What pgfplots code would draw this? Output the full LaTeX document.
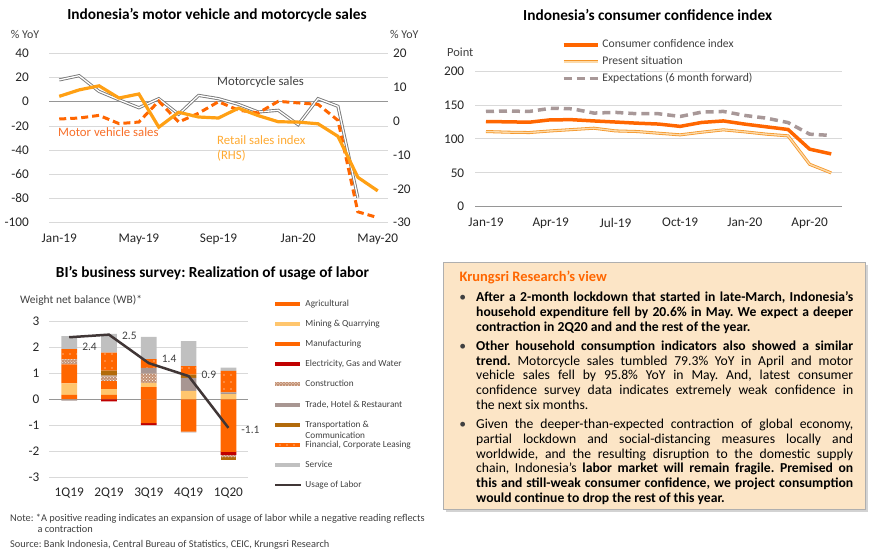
\documentclass[border=0pt]{standalone}
\usepackage{fontspec}
\setmainfont{Carlito}
\usepackage{pgfplots}
\usepackage{pgfplotstable}
\pgfplotsset{compat=1.18}
\usetikzlibrary{patterns,shadows}
\frenchspacing

\definecolor{gridc}{RGB}{217,217,217}
\definecolor{zeroc}{RGB}{150,150,150}
\definecolor{tickc}{RGB}{38,38,38}
\definecolor{labc}{RGB}{64,64,64}
\definecolor{orA}{RGB}{255,102,0}
\definecolor{amber}{RGB}{255,160,20}
\definecolor{mcgray}{RGB}{120,120,120}
\definecolor{presO}{RGB}{245,150,40}
\definecolor{presI}{RGB}{252,218,170}
\definecolor{expc}{RGB}{168,152,152}
\definecolor{mining}{RGB}{255,198,110}
\definecolor{elec}{RGB}{192,0,0}
\definecolor{constr}{RGB}{196,146,116}
\definecolor{trade}{RGB}{168,150,146}
\definecolor{transp}{RGB}{178,106,10}
\definecolor{service}{RGB}{192,192,192}
\definecolor{usage}{RGB}{64,54,54}
\definecolor{boxfill}{RGB}{252,229,198}
\definecolor{boxline}{RGB}{175,175,175}
\definecolor{mvtext}{RGB}{247,110,40}
\definecolor{rstext}{RGB}{255,170,50}

\pgfdeclarepatternformonly{sparsedots}{\pgfqpoint{-1bp}{-1bp}}{\pgfqpoint{1bp}{1bp}}{\pgfqpoint{7bp}{7bp}}{\pgfpathcircle{\pgfqpoint{0bp}{0bp}}{0.7bp}\pgfusepath{fill}}

\pgfplotsset{
  panel/.style={
    scale only axis, anchor=south west,
    axis line style={draw=none},
    major tick length=0pt,
    ymajorgrids, grid style={draw=gridc, line width=0.75bp},
    tick label style={font=\fontsize{13.3}{15}\selectfont, text=tickc},
    /pgf/number format/assume math mode=true,
    extra y ticks={0}, extra y tick labels={},
    extra y tick style={grid style={draw=zeroc, line width=0.9bp}},
    clip=false,
  },
  s1/.style={fill=orA, draw=none},
  s2/.style={fill=mining, draw=none},
  s3/.style={fill=orA, draw=none},
  s4/.style={fill=elec, draw=none},
  s5/.style={fill=constr, draw=none, postaction={pattern=crosshatch dots, pattern color=white}},
  s6/.style={fill=trade, draw=none},
  s7/.style={fill=transp, draw=none},
  s8/.style={fill=orA, draw=none, postaction={pattern=sparsedots, pattern color=white}},
  s9/.style={fill=service, draw=none},
}

% BI survey, positive and negative contributions
\pgfplotstableread{
q agri mining manuf elec constr trade transp fin service
0 0.17 0.45 0.73 0 0.19 0    0    0.40 0.50
1 0.17 0.23 0.30 0 0.19 0.03 0.19 0.70 0.72
2 0.47 0.17 0    0 0.35 0.23 0    0.33 0.86
3 0    0.33 0    0 0    0.50 0.13 0.32 0.97
4 0    0.20 0    0 0    0.07 0    0.83 0.13
}\pos
\pgfplotstableread{
q manuf elec constr trade transp
0 0     0     0     -0.05 0
1 0     -0.08 0     0     0
2 -0.92 -0.08 0     0     0
3 -1.25 0     0     -0.03 0
4 -2.03 -0.12 -0.08 0     -0.12
}\neg
\pgfplotstableread{
q y dy
0 2.4 -10
1 2.5 -1.5
2 1.4 4
3 0.9 1
4 -1.1 -2
}\usagetab

\begin{document}
\begin{tikzpicture}
\useasboundingbox (0,0) rectangle (870bp,-557bp);

% ---------------- motor vehicle and motorcycle sales
\node[font=\bfseries\fontsize{15.4}{17}\selectfont, text=black] at (217bp,-15bp) {Indonesia's motor vehicle and motorcycle sales};
\node[anchor=west, inner sep=0, font=\fontsize{12}{14}\selectfont, text=labc] at (10.7bp,-34bp) {\% YoY};
\node[anchor=west, inner sep=0, font=\fontsize{12}{14}\selectfont, text=labc] at (390bp,-34bp) {\% YoY};
\begin{axis}[panel, at={(49.3bp,-222.7bp)}, width=338.4bp, height=169.4bp,
  xmin=-0.5, xmax=16.5, ymin=-100, ymax=40, ytick={-100,-80,...,40},
  xtick={0,4,8,12,16}, xticklabels={Jan-19,May-19,Sep-19,Jan-20,May-20},
  yticklabel style={xshift=-17bp}, xticklabel style={yshift=-8bp}]
\addplot[mcgray, line width=0.9bp, double=white, double distance=1.3bp] coordinates {
(0,18) (1,21.5) (2,8.5) (3,1.6) (4,-5) (5,2.5) (6,-10.4) (7,5.2) (8,2.5) (9,-2.2)
(10,-8.5) (11,-7.1) (12,-19) (13,2.5) (14,-3.8) (15,-79.3)};
\addplot[orA, line width=3bp, dash pattern=on 7bp off 4bp] coordinates {
(0,-14.3) (1,-13.5) (2,-11.3) (3,-18.1) (4,-16.8) (5,0.5) (6,-16.8) (7,-9.5) (8,0) (9,-7)
(10,-9.3) (11,0.3) (12,-1) (13,-2.2) (14,-15.4) (15,-91) (16,-95.8)};
\end{axis}
\begin{axis}[panel, at={(49.3bp,-222.7bp)}, width=338.4bp, height=169.4bp,
  xmin=-0.5, xmax=16.5, ymin=-30, ymax=20, ytick={-30,-20,...,20},
  ymajorgrids=false, extra y ticks={}, xtick=\empty,
  yticklabel pos=right, yticklabel style={xshift=2bp}]
\addplot[amber, line width=3.2bp] coordinates {
(0,7.3) (1,9.2) (2,10.4) (3,6.8) (4,8.0) (5,-1.8) (6,2.6) (7,1.2) (8,0.9) (9,3.8)
(10,1.6) (11,-0.2) (12,-0.3) (13,-0.8) (14,-4.5) (15,-16.6) (16,-20.6)};
\end{axis}
\node[anchor=west, inner sep=0, font=\fontsize{12.8}{14}\selectfont, text=labc] at (217bp,-81.7bp) {Motorcycle sales};
\node[anchor=west, inner sep=0, font=\fontsize{12.8}{14}\selectfont, text=mvtext] at (58bp,-132bp) {Motor vehicle sales};
\node[anchor=west, inner sep=0, font=\fontsize{12.8}{14}\selectfont, text=rstext] at (217bp,-140bp) {Retail sales index};
\node[anchor=west, inner sep=0, font=\fontsize{12.8}{14}\selectfont, text=rstext] at (217bp,-156bp) {(RHS)};

% ---------------- consumer confidence index
\node[font=\bfseries\fontsize{15.4}{17}\selectfont, text=black] at (647.7bp,-15bp) {Indonesia's consumer confidence index};
\node[anchor=west, inner sep=0, font=\fontsize{12.5}{14}\selectfont, text=labc] at (447bp,-52.3bp) {Point};
\begin{axis}[panel, at={(475.2bp,-206.7bp)}, width=366.8bp, height=135.7bp,
  xmin=-0.5, xmax=16.5, ymin=0, ymax=200, ytick={0,50,...,200},
  xtick={0,3,...,15}, xticklabels={Jan-19,Apr-19,Jul-19,Oct-19,Jan-20,Apr-20},
  yticklabel style={xshift=-7.5bp}, xticklabel style={yshift=-8bp},
  legend cell align=left,
  legend image code/.code={\draw[#1] (0bp,0bp) -- (34bp,0bp);},
  legend style={at={(axis description cs:0.2366,1.2303)}, anchor=north west,
    draw=none, fill=none, inner sep=0pt, outer sep=0pt, row sep=6.35bp,
    nodes={inner sep=0pt, text height=8bp, text depth=2.5bp, text=labc,
      font=\fontsize{11.7}{13}\selectfont},
    /tikz/every odd column/.append style={column sep=3bp}}]
\addplot[orA, line width=3.5bp] coordinates {
(0,125.5) (1,125.1) (2,124.5) (3,128.1) (4,128.2) (5,126.4) (6,124.8) (7,123.1) (8,121.8)
(9,118.4) (10,124.2) (11,126.4) (12,121.7) (13,117.7) (14,113.8) (15,84.8) (16,77.8)};
\addlegendentry{Consumer confidence index}
\addplot[presO, line width=0.8bp, double=presI, double distance=1.4bp] coordinates {
(0,110.8) (1,109.8) (2,109.3) (3,111.7) (4,113.7) (5,115.7) (6,111.7) (7,110.8) (8,108.3)
(9,105.9) (10,109.8) (11,113.3) (12,110.3) (13,106.9) (14,104.4) (15,62.5) (16,49.8)};
\addlegendentry{Present situation}
\addplot[expc, line width=3.5bp, dash pattern=on 8bp off 5bp] coordinates {
(0,140.4) (1,141) (2,140.4) (3,145) (4,144.3) (5,138) (6,139) (7,137) (8,137)
(9,133) (10,139.4) (11,140.4) (12,134.5) (13,130.5) (14,124) (15,106.9) (16,105)};
\addlegendentry{Expectations (6 month forward)}
\end{axis}

% ---------------- BI business survey
\node[font=\bfseries\fontsize{15.4}{17}\selectfont, text=black] at (212.5bp,-273.3bp) {BI's business survey: Realization of usage of labor};
\node[anchor=west, inner sep=0, font=\fontsize{11.5}{13}\selectfont, text=labc] at (20bp,-300.7bp) {Weight net balance (WB)*};
\begin{axis}[panel, at={(49.3bp,-477bp)}, width=199bp, height=155.3bp,
  ybar stacked, bar width=15.7bp,
  xmin=-0.5, xmax=4.5, ymin=-3, ymax=3, ytick={-3,...,3},
  xtick={0,...,4}, xticklabels={1Q19,2Q19,3Q19,4Q19,1Q20},
  yticklabel style={xshift=-6.5bp}, xticklabel style={yshift=-7.5bp},
  legend cell align=left,
  legend image code/.code={\fill[#1, draw=none] (0bp,-2bp) rectangle (25bp,2bp);},
  legend style={at={(axis description cs:1.129,1.1429)}, anchor=north west,
    draw=none, fill=none, inner sep=0pt, outer sep=0pt, row sep=11.1bp,
    nodes={inner sep=0pt, text height=7bp, text depth=2bp, text=labc,
      font=\fontsize{9.3}{11}\selectfont},
    /tikz/every odd column/.append style={column sep=3bp}}]
\addplot[s1] table[x=q, y=agri] {\pos};
\addlegendentry{Agricultural}
\addplot[s2] table[x=q, y=mining] {\pos};
\addlegendentry{Mining \& Quarrying}
\addplot[s3] table[x=q, y=manuf] {\pos};
\addlegendentry{Manufacturing}
\addplot[s4] table[x=q, y=elec] {\pos};
\addlegendentry{Electricity, Gas and Water}
\addplot[s5] table[x=q, y=constr] {\pos};
\addlegendentry{Construction}
\addplot[s6] table[x=q, y=trade] {\pos};
\addlegendentry{Trade, Hotel \& Restaurant}
\addplot[s7] table[x=q, y=transp] {\pos};
\addlegendentry{\smash{\parbox[t]{100bp}{\fontsize{9.3}{11.4}\selectfont Transportation \&\\Communication}}}
\addplot[s8] table[x=q, y=fin] {\pos};
\addlegendentry{Financial, Corporate Leasing}
\addplot[s9] table[x=q, y=service] {\pos};
\addlegendentry{Service}
\addlegendimage{legend image code/.code={\draw[usage, line width=2.5bp] (0bp,0bp) -- (26bp,0bp);}}
\addlegendentry{Usage of Labor}
\end{axis}
\begin{axis}[panel, hide axis, at={(49.3bp,-477bp)}, width=199bp, height=155.3bp,
  ybar stacked, bar width=15.7bp, xmin=-0.5, xmax=4.5, ymin=-3, ymax=3]
\addplot[s3] table[x=q, y=manuf] {\neg};
\addplot[s4] table[x=q, y=elec] {\neg};
\addplot[s5] table[x=q, y=constr] {\neg};
\addplot[s6] table[x=q, y=trade] {\neg};
\addplot[s7] table[x=q, y=transp] {\neg};
\end{axis}
\begin{axis}[panel, hide axis, at={(49.3bp,-477bp)}, width=199bp, height=155.3bp,
  xmin=-0.5, xmax=4.5, ymin=-3, ymax=3]
\addplot[usage, line width=2.5bp, nodes near coords={\pgfmathprintnumber[fixed, fixed zerofill, precision=1]{\pgfplotspointmeta}},
  visualization depends on={\thisrow{dy}\as\dy},
  every node near coord/.append style={anchor=west, xshift=8.5bp, yshift=\dy bp,
    font=\fontsize{11.5}{13}\selectfont, text=labc}] table[x=q, y=y] {\usagetab};
\end{axis}

% ---------------- notes
\node[anchor=base west, inner sep=0, font=\fontsize{10.4}{12}\selectfont, text=labc] at (10bp,-521.8bp) {Note: *A positive reading indicates an expansion of usage of labor while a negative reading reflects};
\node[anchor=base west, inner sep=0, font=\fontsize{10.4}{12}\selectfont, text=labc] at (37.3bp,-532.8bp) {a contraction};
\node[anchor=base west, inner sep=0, font=\fontsize{10.4}{12}\selectfont, text=labc] at (10bp,-547.5bp) {Source: Bank Indonesia, Central Bureau of Statistics, CEIC, Krungsri Research};

% ---------------- Krungsri view box
\draw[draw=boxline, fill=boxfill, drop shadow={shadow xshift=2.5bp, shadow yshift=-2.5bp, opacity=0.35}] (443bp,-262bp) rectangle (865bp,-509bp);
\node[anchor=base west, inner sep=0, text=orA, font=\bfseries\fontsize{14.5}{16}\selectfont] at (459.3bp,-281bp) {Krungsri Research's view};
\foreach \yy in {301.7,350.3,428.6} {
  \node[anchor=base, inner sep=0, text=labc, font=\fontsize{13.7}{14.8}\selectfont] at (462.7bp,-\yy bp) {\textbullet};
}
\node[anchor=base west, inner sep=0, text width=377bp, align=justify, text=black, font=\fontsize{13.7}{14.8}\selectfont] at (476bp,-301.7bp)
{\hyphenpenalty=10000\exhyphenpenalty=10000\bfseries After a 2-month lockdown that started in late-March, Indonesia's\linebreak household expenditure fell by 20.6\% in May. We expect a deeper\linebreak contraction in 2Q20 and and the rest of the year.};
\node[anchor=base west, inner sep=0, text width=377bp, align=justify, text=black, font=\fontsize{13.7}{14.8}\selectfont] at (476bp,-350.3bp)
{\hyphenpenalty=10000\exhyphenpenalty=10000\textbf{Other household consumption indicators also showed a similar\linebreak trend.} Motorcycle sales tumbled 79.3\% YoY in April and motor\linebreak vehicle sales fell by 95.8\% YoY in May. And, latest consumer\linebreak confidence survey data indicates extremely weak confidence in\linebreak the next six months.};
\node[anchor=base west, inner sep=0, text width=377bp, align=justify, text=black, font=\fontsize{13.7}{14.8}\selectfont] at (476bp,-428.6bp)
{\hyphenpenalty=10000\exhyphenpenalty=10000 Given the deeper-than-expected contraction of global economy,\linebreak partial lockdown and social-distancing measures locally and\linebreak worldwide, and the resulting disruption to the domestic supply\linebreak chain, Indonesia's \textbf{labor market will remain fragile. Premised on\linebreak this and still-weak consumer confidence, we project consumption\linebreak would continue to drop the rest of this year.}};
\end{tikzpicture}
\end{document}
